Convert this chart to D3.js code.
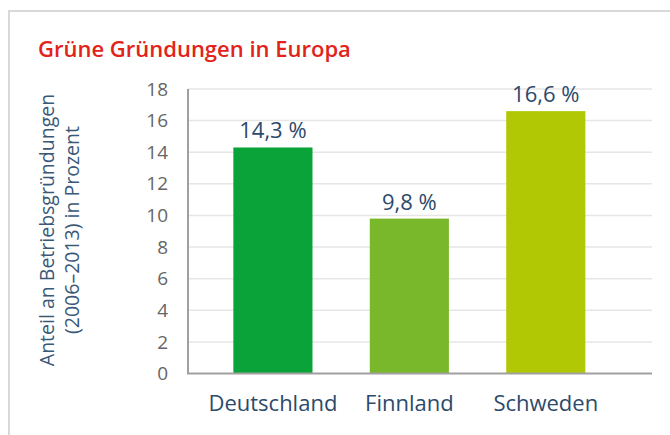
<!DOCTYPE html>
<html>
<head>
<meta charset="utf-8">
<script src="https://cdn.jsdelivr.net/npm/d3@7.9.0/dist/d3.min.js"></script>
<style>
  body { margin: 0; background: #fff; }
  svg { display: block; font-family: "Open Sans", sans-serif; }
</style>
</head>
<body>
<svg id="chart" width="670" height="435"></svg>
<script>
const countries = ['Deutschland', 'Finnland', 'Schweden'];
const shares = [14.3, 9.8, 16.6];
const barColors = ['#0aa339', '#79b82a', '#b1c904'];
const yTicks = [0, 2, 4, 6, 8, 10, 12, 14, 16, 18];

const svg = d3.select('#chart');

// frame
svg.append('path')
  .attr('d', 'M9,436 V11 H671')
  .attr('fill', 'none')
  .attr('stroke', '#d9d9d9')
  .attr('stroke-width', 2);

svg.append('text')
  .attr('x', 38).attr('y', 57)
  .attr('fill', '#e2231a')
  .attr('font-size', 22)
  .attr('font-weight', 600)
  .text('Grüne Gründungen in Europa');

const y = d3.scaleLinear().domain([0, 18]).range([373.5, 89]);
const x = d3.scaleBand().domain(countries).range([204.7, 614])
  .paddingInner(0.42).paddingOuter(0.21);

const left = 188, right = 652;

// grid
svg.append('g')
  .selectAll('line')
  .data(yTicks.filter(d => d > 0))
  .join('line')
  .attr('x1', left).attr('x2', right)
  .attr('y1', d => y(d)).attr('y2', d => y(d))
  .attr('stroke', '#e6e6e6')
  .attr('stroke-width', 1.5);

// tick labels
svg.append('g')
  .selectAll('text')
  .data(yTicks)
  .join('text')
  .attr('x', 168)
  .attr('y', d => y(d))
  .attr('dy', '0.35em')
  .attr('text-anchor', 'end')
  .attr('fill', '#666')
  .attr('font-size', 19)
  .text(d => d);

// bars
svg.append('g')
  .selectAll('rect')
  .data(countries)
  .join('rect')
  .attr('x', d => x(d))
  .attr('width', x.bandwidth())
  .attr('y', (d, i) => y(shares[i]))
  .attr('height', (d, i) => y(0) - y(shares[i]))
  .attr('fill', (d, i) => barColors[i]);

// value labels
svg.append('g')
  .selectAll('text')
  .data(countries)
  .join('text')
  .attr('x', d => x(d) + x.bandwidth() / 2)
  .attr('y', (d, i) => y(shares[i]) - 9)
  .attr('text-anchor', 'middle')
  .attr('fill', '#2c4a6b')
  .attr('font-size', 22)
  .text((d, i) => String(shares[i]).replace('.', ',') + ' %');

// axes
svg.append('path')
  .attr('d', `M${left},${y(18)} V${y(0)} H${right}`)
  .attr('fill', 'none')
  .attr('stroke', '#a0a0a0')
  .attr('stroke-width', 2);

// category labels
svg.append('g')
  .selectAll('text')
  .data(countries)
  .join('text')
  .attr('x', d => x(d) + x.bandwidth() / 2)
  .attr('y', 411)
  .attr('text-anchor', 'middle')
  .attr('fill', '#2c4a6b')
  .attr('font-size', 22)
  .text(d => d);

// y title
const yt = svg.append('text')
  .attr('transform', 'translate(54,230) rotate(-90)')
  .attr('text-anchor', 'middle')
  .attr('fill', '#3a5877')
  .attr('font-size', 19.5);
yt.append('tspan').attr('x', 0).attr('y', 0).text('Anteil an Betriebsgründungen');
yt.append('tspan').attr('x', 0).attr('y', 25).text('(2006–2013) in Prozent');
</script>
</body>
</html>
